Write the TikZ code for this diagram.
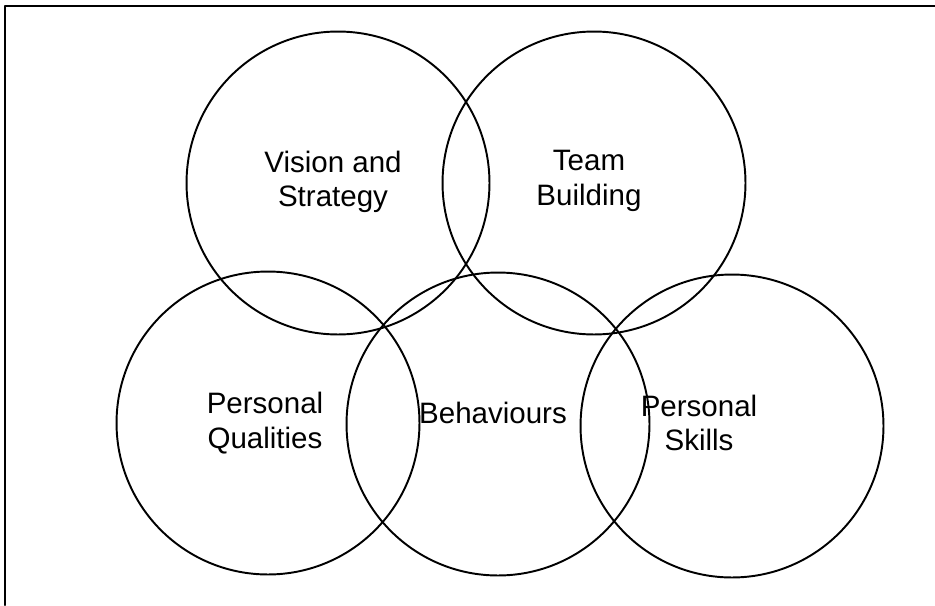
\documentclass[tikz,border=0pt]{standalone}
\usepackage{fontspec}
\setmainfont{Liberation Sans}
\usetikzlibrary{positioning}

\begin{document}
\begin{tikzpicture}[
    x=0.02cm, y=-0.02cm,
    line cap=round, line join=round,
    ring/.style={draw=black, circle, line width=1.1pt, minimum size=6.06cm, inner sep=0pt},
    ringtext/.style={align=center, font=\fontsize{16.8}{19.6}\selectfont, inner sep=0pt},
    frameline/.style={draw=black, line width=1.2pt}
  ]
    \useasboundingbox (0,0) rectangle (935,605);

    % Rahmen (nur oben und links)
    \coordinate (frameTop) at (935,6);
    \coordinate (frameCorner) at (5,6);
    \coordinate (frameBottom) at (5,605);
    \draw[frameline] (frameTop) -- (frameCorner) -- (frameBottom);

    % obere Reihe
    \node[ring] (Vision) at (338,183) {};
    \node[ring] (Team) at (594,183) {};

    % untere Reihe
    \node[ring] (Qualities) at (268,423) {};
    \node[ring] (Behaviours) at (498,424) {};
    \node[ring] (Skills) at (732,426) {};

    % Beschriftungen
    \node[ringtext] (VisionText) at (333,182) {Vision and\\Strategy};
    \node[ringtext] (TeamText) at (589,181) {Team\\Building};
    \node[ringtext] (QualitiesText) at (265,423) {Personal\\Qualities};
    \node[ringtext] (BehavioursText) at (493,413) {Behaviours};
    \node[ringtext] (SkillsText) at (699,423) {Personal\\Skills};

  \end{tikzpicture}
\end{document}
